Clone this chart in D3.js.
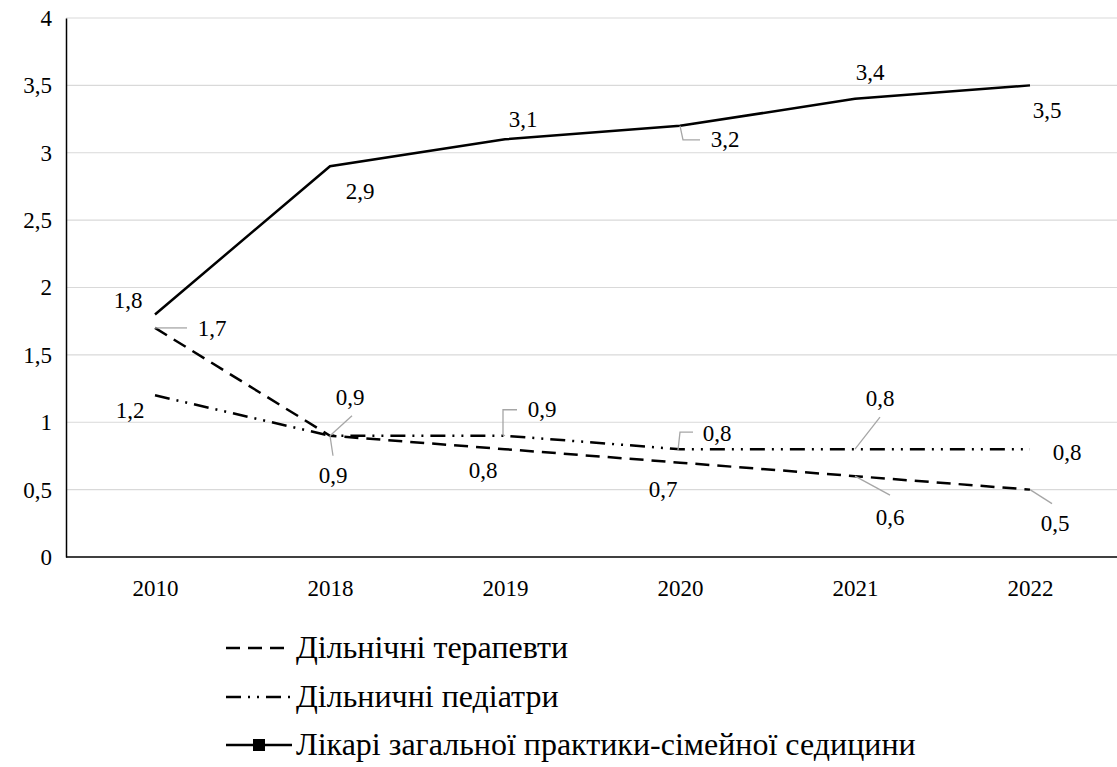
<!DOCTYPE html>
<html><head><meta charset="utf-8">
<script src="https://cdn.jsdelivr.net/npm/d3@7"></script>
<style>body{margin:0;background:#fff}svg{display:block}</style>
</head><body><svg id="c" width="1117" height="767"></svg>
<script>
const years = ["2010","2018","2019","2020","2021","2022"];
const yTicks = [0,0.5,1,1.5,2,2.5,3,3.5,4];
const terapevty = [1.7,0.9,0.8,0.7,0.6,0.5];
const pediatry = [1.2,0.9,0.9,0.8,0.8,0.8];
const likari = [1.8,2.9,3.1,3.2,3.4,3.5];
const seriesNames = ["Дільнічні терапевти","Дільничні педіатри","Лікарі загальної практики-сімейної седицини"];

(function(){
const FF = '"Liberation Serif"';
const svg = d3.select("#c");
const pL=66, pR=1117, pT=18, pB=557;
const x = d3.scalePoint().domain(years).range([155,1030]);
const y = d3.scaleLinear().domain([0,4]).range([pB,pT]);
const fmt = v => String(v).replace(".",",");
const FS = "23px";

svg.append("g").selectAll("line").data(yTicks.filter(d=>d>0)).join("line")
  .attr("x1",pL).attr("x2",pR).attr("y1",d=>y(d)).attr("y2",d=>y(d))
  .attr("stroke","#d9d9d9").attr("stroke-width",1.2);

const ya = svg.append("g").attr("transform",`translate(${pL},0)`).call(d3.axisLeft(y).tickValues(yTicks).tickSize(0).tickPadding(14).tickFormat(fmt));
ya.select(".domain").attr("stroke","#000").attr("stroke-width",1.5);
ya.selectAll("text").style("font-family",FF).style("font-size",FS).attr("fill","#000").attr("dy","0.32em");
svg.append("line").attr("x1",pL).attr("x2",pR).attr("y1",pB).attr("y2",pB).attr("stroke","#000").attr("stroke-width",1.5);
const xa = svg.append("g").attr("transform",`translate(0,${pB})`).call(d3.axisBottom(x).tickSize(0).tickPadding(32));
xa.select(".domain").remove();
xa.selectAll("text").style("font-family",FF).style("font-size",FS).attr("fill","#000").attr("dy","0.32em");

const line = d3.line().x((d,i)=>x(years[i])).y(d=>y(d));
const styles = [
  {data:terapevty, dash:"14,8", w:2.5},
  {data:pediatry, dash:"15,7,2,7,2,7", w:2.5},
  {data:likari, dash:null, w:2.5}
];
styles.forEach(s=>{
  svg.append("path").datum(s.data).attr("d",line).attr("fill","none").attr("stroke","#000")
    .attr("stroke-width",s.w).attr("stroke-dasharray",s.dash);
});

const lab = [
  [likari,0,-27,-14,null],
  [likari,1,30,25,null],
  [likari,2,18,-20,null],
  [likari,3,45,14,[[0,0],[3,14],[20,14]]],
  [likari,4,15,-26,null],
  [likari,5,17,25,null],
  [terapevty,0,57,1,[[0,0],[32,0]]],
  [terapevty,1,3,40,[[0,0],[3,20]]],
  [terapevty,2,-22,21,null],
  [terapevty,3,-17,27,null],
  [terapevty,4,35,41,[[0,0],[35,19]]],
  [terapevty,5,25,34,[[0,0],[22,14]]],
  [pediatry,0,-25,15,null],
  [pediatry,1,20,-38,[[0,0],[22,-20]]],
  [pediatry,2,37,-26,[[0,0],[-2,-1],[-2,-26],[12,-26]]],
  [pediatry,3,37,-16,[[-2,1],[0,-17],[13,-17]]],
  [pediatry,4,25,-51,[[0,0],[25,-32]]],
  [pediatry,5,37,3,null]
];
lab.forEach(([s,i,dx,dy,lead])=>{
  const px=x(years[i]), py=y(s[i]);
  if(lead){
    svg.append("polyline").attr("points",lead.map(p=>[px+p[0],py+p[1]].join(",")).join(" "))
      .attr("fill","none").attr("stroke","#a6a6a6").attr("stroke-width",1.3);
  }
  svg.append("text").attr("x",px+dx).attr("y",py+dy).attr("text-anchor","middle")
    .attr("dy","0.32em").style("font-family",FF).style("font-size",FS).attr("fill","#000").text(fmt(s[i]));
});

const lg = svg.append("g");
const ly = [648,697,745];
seriesNames.forEach((n,i)=>{
  lg.append("line").attr("x1",226).attr("x2",292).attr("y1",ly[i]).attr("y2",ly[i])
    .attr("stroke","#000").attr("stroke-width",2.5).attr("stroke-dasharray",styles[i].dash);
  if(i===2) lg.append("rect").attr("x",253).attr("y",ly[i]-6).attr("width",12).attr("height",12).attr("fill","#000");
  lg.append("text").attr("x",296).attr("y",ly[i]).attr("dy","0.32em").style("font-family",FF).style("font-size","32px").attr("fill","#000").text(n);
});
})();
</script></body></html>
